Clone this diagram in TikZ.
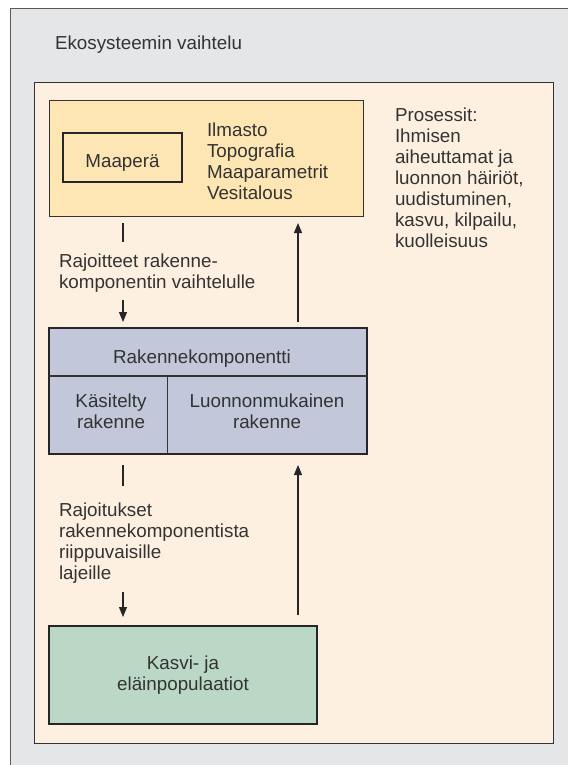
\documentclass[tikz,border=0pt]{standalone}
\usepackage{fontspec}
\setmainfont{Liberation Sans}
\usetikzlibrary{arrows.meta}
\definecolor{bggray}{HTML}{E5E6E8}
\definecolor{cream}{HTML}{FEF0E1}
\definecolor{envyellow}{HTML}{FEE6B4}
\definecolor{strblue}{HTML}{C3C7DA}
\definecolor{popgreen}{HTML}{BBD7C6}
\definecolor{txt}{HTML}{333333}
\definecolor{edge}{HTML}{333333}
\newcommand{\lstack}[1]{\vtop{\halign{##\hfil\cr#1\crcr}}}
\newcommand{\cstack}[1]{\vtop{\halign{\hfil##\hfil\cr#1\crcr}}}
\tikzset{
  txtnode/.style={inner sep=0pt, outer sep=0pt, text=txt, font=\fontsize{18.8}{21}\selectfont},
  thinbox/.style={draw=edge, line width=1pt, inner sep=0pt, outer sep=0pt},
  thickbox/.style={draw=black!85, line width=2pt, inner sep=0pt, outer sep=0pt},
  conn/.style={draw=black!85, line width=1.1pt},
  arr/.style={conn, -{Triangle[length=10pt,width=8pt]}},
}
\begin{document}
\begin{tikzpicture}[x=1pt,y=-1pt]
\useasboundingbox (0,0) rectangle (568,765);
% outer grey panel
\fill[bggray] (10,9) rectangle (568,765);
\draw[black!65, line width=1pt] (10,765) -- (10,9) -- (568,9);
\node[txtnode, anchor=base west] (title) at (55,50) {Ekosysteemin vaihtelu};
% cream frame
\node[thinbox, fill=cream, minimum width=519pt, minimum height=660pt] (frame) at (293.5,413) {};
% environment box
\node[thinbox, fill=envyellow, minimum width=314pt, minimum height=115pt] (env) at (206,158.5) {};
\node[thickbox, line width=2.4pt, minimum width=119pt, minimum height=49pt] (soil) at (122.5,157.5) {};
\node[txtnode, anchor=base] (soiltxt) at (122.5,167) {Maaperä};
\node[txtnode, anchor=base west] (envlist) at (207,136) {\lstack{Ilmasto\cr Topografia\cr Maaparametrit\cr Vesitalous}};
% processes
\node[txtnode, anchor=base west] (proc) at (395,121.7) {\lstack{Prosessit:\cr Ihmisen\cr aiheuttamat ja\cr luonnon häiriöt,\cr uudistuminen,\cr kasvu, kilpailu,\cr kuolleisuus}};
% structure component box
\node[thickbox, fill=strblue, minimum width=318pt, minimum height=126pt] (rak) at (208,391) {};
\draw[edge, line width=1.2pt] (rak.west |- 0,376) -- (rak.east |- 0,376);
\draw[edge, line width=1pt] (167,376) -- (rak.south -| 167,0);
\node[txtnode, anchor=base] (raktxt) at (202,363) {Rakennekomponentti};
\node[txtnode, anchor=base] (kas) at (111,407) {\cstack{Käsitelty\cr rakenne}};
\node[txtnode, anchor=base] (luo) at (267,407) {\cstack{Luonnonmukainen\cr rakenne}};
% populations box
\node[thickbox, fill=popgreen, minimum width=268pt, minimum height=98pt] (pop) at (183,675) {};
\node[txtnode, anchor=base] (poptxt) at (183,669) {\cstack{Kasvi- ja\cr eläinpopulaatiot}};
% labels
\node[txtnode, anchor=base west] (lab1) at (59,267) {\lstack{Rajoitteet rakenne-\cr komponentin vaihtelulle}};
\node[txtnode, anchor=base west] (lab2) at (59,516) {\lstack{Rajoitukset\cr rakennekomponentista\cr riippuvaisille\cr lajeille}};
% connector columns
\coordinate (ax) at (123,0);
\coordinate (bx) at (298,0);
% env -> rak (with label in between)
\draw[conn, shorten <=7pt, shorten >=86pt] (env.south -| ax) -- (rak.north -| ax);
\draw[arr, shorten <=84pt, shorten >=6pt] (env.south -| ax) -- (rak.north -| ax);
% rak -> env
\draw[arr, shorten <=6pt, shorten >=7pt] (rak.north -| bx) -- (env.south -| bx);
% rak -> pop (with label in between)
\draw[conn, shorten <=11pt, shorten >=140pt] (rak.south -| ax) -- (pop.north -| ax);
\draw[arr, shorten <=138pt, shorten >=9pt] (rak.south -| ax) -- (pop.north -| ax);
% pop -> rak
\draw[arr, shorten <=11pt, shorten >=11pt] (pop.north -| bx) -- (rak.south -| bx);
\end{tikzpicture}
\end{document}
